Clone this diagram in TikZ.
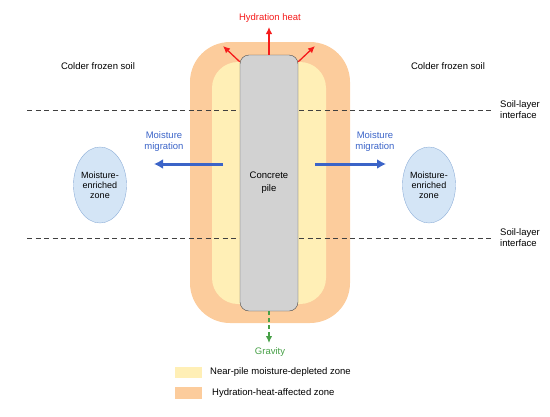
\documentclass[tikz,border=0pt]{standalone}
\usepackage{fontspec}
\setmainfont{Liberation Sans}
\usepackage{tikz}
\usetikzlibrary{arrows.meta}
\usetikzlibrary{shapes.geometric}

\definecolor{heatzone}{HTML}{FCCC9C}
\definecolor{dryzone}{HTML}{FFEFB6}
\definecolor{pilegray}{HTML}{D2D2D2}
\definecolor{migblue}{HTML}{3B64C8}
\definecolor{wetfill}{HTML}{D4E5F6}
\definecolor{wetline}{HTML}{8DAED8}
\definecolor{heatred}{HTML}{F51B1B}
\definecolor{gravgreen}{HTML}{47A047}

\tikzset{
    lbl/.style={font=\fontsize{9.5}{11}\selectfont, align=center, inner sep=0pt},
    zone/.style={draw=none, inner sep=0pt},
    wetzone/.style={ellipse, draw=wetline, fill=wetfill, minimum width=41, minimum height=76, inner sep=0pt,
        font=\fontsize{9}{10}\selectfont, align=center},
    iface/.style={dash pattern=on 5pt off 3.5pt, draw=black!75, line width=0.9pt},
    heatarrow/.style={line width=1.3pt, heatred, -{Latex[length=7pt, width=6.5pt]}},
    migarrow/.style={line width=3pt, migblue, -{Latex[length=9pt, width=10pt]}},
}

\begin{document}
\begin{tikzpicture}[x=1pt, y=-1pt]
    \useasboundingbox (0, 0) rectangle (550, 416); % image frame
    % zones round the pile
    \node[zone, fill=heatzone, rounded corners=40, minimum width=160, minimum height=281] (heat) at (270, 182.5) {};
    \node[zone, fill=dryzone, rounded corners=26, minimum width=114, minimum height=242] (dry) at (269, 183) {};
    % soil-layer interfaces
    \coordinate (ifaceAw) at (27, 110);
    \coordinate (ifaceAe) at (492, 110);
    \coordinate (ifaceBw) at (27, 238);
    \coordinate (ifaceBe) at (492, 238);
    \draw[iface] (ifaceAw) -- (ifaceAe);
    \draw[iface] (ifaceBw) -- (ifaceBe);
    \node[lbl, anchor=west, align=left] (ifaceAlbl) at (500, 110) {Soil-layer\\interface};
    \node[lbl, anchor=west, align=left] (ifaceBlbl) at (500, 238) {Soil-layer\\interface};
    % the pile
    \node[draw=black!70, fill=pilegray, rounded corners=9, minimum width=58, minimum height=256, inner sep=0pt,
        font=\fontsize{9.5}{13}\selectfont, align=center] (pile) at (269, 183) {Concrete\\pile};
    % hydration heat
    \node[lbl, text=heatred] (heatlbl) at (270, 18) {Hydration heat};
    \coordinate (heatup) at (269, 27);
    \coordinate (heatleft) at (223, 46);
    \coordinate (heatright) at (315, 46);
    \draw[heatarrow] (pile.north) -- (heatup);
    \draw[heatarrow] ([yshift=-7pt]pile.north west) -- (heatleft);
    \draw[heatarrow] ([yshift=-7pt]pile.north east) -- (heatright);
    % cold soil
    \node[lbl] (coldW) at (98, 66) {Colder frozen soil};
    \node[lbl] (coldE) at (448, 66) {Colder frozen soil};
    % moisture migration
    \coordinate (migWs) at (223, 164);
    \coordinate (migWe) at (154, 164);
    \coordinate (migEs) at (315, 164);
    \coordinate (migEe) at (386, 164);
    \draw[migarrow] (migWs) -- (migWe);
    \draw[migarrow] (migEs) -- (migEe);
    \node[lbl, text=migblue] (migWlbl) at (164, 142) {Moisture\\migration};
    \node[lbl, text=migblue] (migElbl) at (375, 142) {Moisture\\migration};
    \node[wetzone] (wetW) at (100, 185) {Moisture-\\enriched\\zone};
    \node[wetzone] (wetE) at (429, 185) {Moisture-\\enriched\\zone};
    % gravity
    \coordinate (gravend) at (269, 343);
    \draw[line width=1.2pt, gravgreen, dash pattern=on 4pt off 3pt, -{Latex[length=7pt, width=6.5pt]}] (pile.south) -- (gravend);
    \node[lbl, text=gravgreen] (gravlbl) at (270, 352) {Gravity};
    % legend
    \node[zone, fill=dryzone, minimum width=27, minimum height=11, anchor=north west] (keydry) at (175, 367) {};
    \node[zone, fill=heatzone, minimum width=27, minimum height=12, anchor=north west] (keyheat) at (175, 387) {};
    \node[lbl, anchor=west] (keydrylbl) at (210, 372.5) {Near-pile moisture-depleted zone};
    \node[lbl, anchor=west] (keyheatlbl) at (212, 393) {Hydration-heat-affected zone};
\end{tikzpicture}
\end{document}
